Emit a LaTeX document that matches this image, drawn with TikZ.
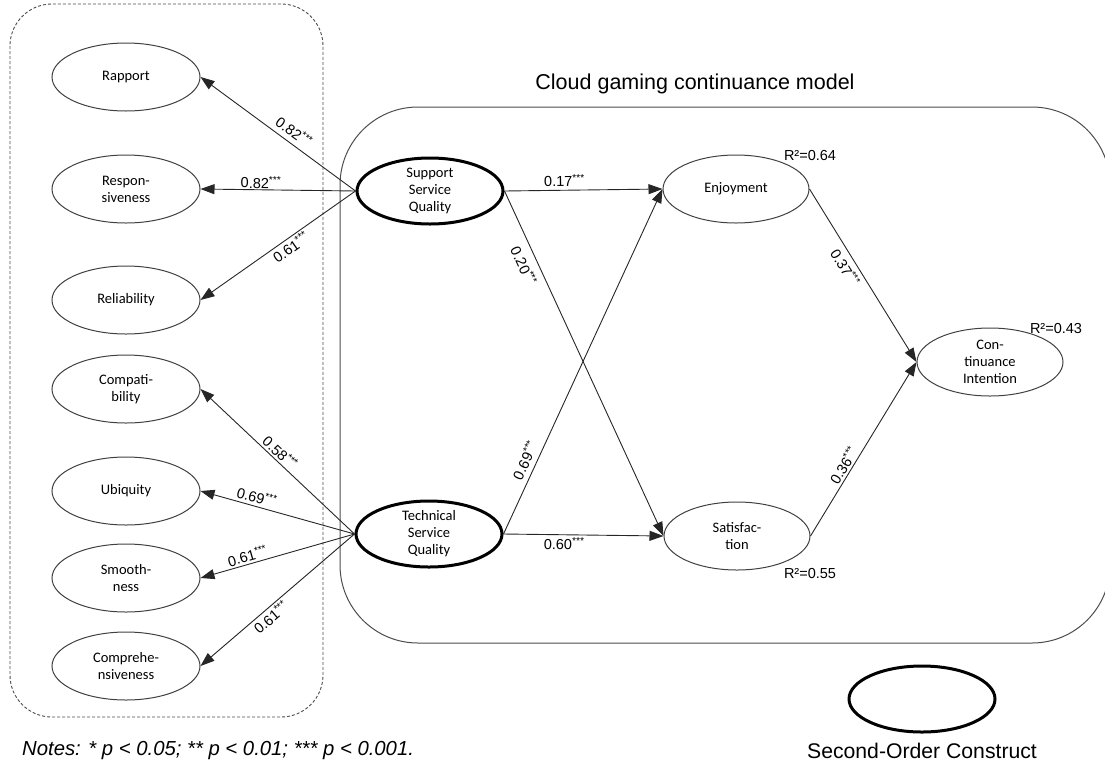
\documentclass[tikz,border=0pt]{standalone}
\usepackage{fontspec}
\setmainfont{Liberation Sans}
\newfontfamily\carl{Carlito}
\usetikzlibrary{shapes.geometric,arrows.meta}
\tikzset{
  lat/.style={ellipse, draw=black!75, line width=1pt, minimum width=148pt, minimum height=68pt,
    inner sep=0pt, align=center, font=\carl\fontsize{14.5}{17}\selectfont},
  sec/.style={lat, draw=black, line width=3pt, minimum width=146pt, minimum height=66pt},
  arr/.style={-{Triangle[length=14pt,width=10pt]}, line width=0.9pt, draw=black!85},
  lbl/.style={font=\fontsize{14.5}{16}\selectfont, sloped, inner sep=2pt},
  rsq/.style={font=\fontsize{14.5}{16}\selectfont, anchor=base, inner sep=0pt},
}
\begin{document}
\begin{tikzpicture}[x=1pt,y=-1pt]
\useasboundingbox (0,0) rectangle (1105,764);
\clip (0,0) rectangle (1105,764);
% frames
\draw[black!70, line width=0.9pt, dash pattern=on 3pt off 2pt, rounded corners=42pt] (10,4) rectangle (323,717);
\draw[black!70, line width=1pt, rounded corners=78pt] (340,107) rectangle (1110,643);
\node[font=\fontsize{21.5}{24}\selectfont, anchor=base] (title) at (695,89) {Cloud gaming continuance model};
% first-order indicators
\node[lat] (rap) at (126,77) {Rapport};
\node[lat] (res) at (126,189) {Respon-\\siveness};
\node[lat] (rel) at (126,300) {Reliability};
\node[lat] (com) at (126,389) {Compati-\\bility};
\node[lat] (ubi) at (126,491) {Ubiquity};
\node[lat] (smo) at (126,578) {Smooth-\\ness};
\node[lat] (cmp) at (126,666) {Comprehe-\\nsiveness};
% second-order constructs
\node[sec] (sup) at (430,191) {Support\\Service\\Quality};
\node[sec] (tec) at (429,534) {Technical\\Service\\Quality};
% model constructs
\node[lat, minimum width=146pt] (enj) at (736,189) {Enjoyment};
\node[lat, minimum width=146pt] (sat) at (737,536) {Satisfac-\\tion};
\node[lat, minimum width=146pt] (ci) at (990,362) {Con-\\tinuance\\Intention};
% loadings
\draw[arr] (sup.west) -- node[lbl,pos=0.44,above=3pt]{0.82\textsuperscript{***}} (rap.east);
\draw[arr] (sup.west) -- node[lbl,pos=0.61,above=-1pt]{0.82\textsuperscript{***}} (res.east);
\draw[arr] (sup.west) -- node[lbl,pos=0.45,below]{0.61\textsuperscript{***}} (rel.east);
\draw[arr] (tec.west) -- node[lbl,pos=0.52,above]{0.58\textsuperscript{***}} (com.east);
\draw[arr] (tec.west) -- node[lbl,pos=0.65,above=1pt]{0.69\textsuperscript{***}} (ubi.east);
\draw[arr] (tec.west) -- node[lbl,pos=0.68,above]{0.61\textsuperscript{***}} (smo.east);
\draw[arr] (tec.west) -- node[lbl,pos=0.58,below]{0.61\textsuperscript{***}} (cmp.east);
% structural paths
\draw[arr] (sup.east) -- node[lbl,pos=0.38,above=1pt]{0.17\textsuperscript{***}} (enj.west);
\draw[arr] (sup.east) -- node[lbl,pos=0.2,below=5pt]{0.20\textsuperscript{***}} (sat.west);
\draw[arr] (tec.east) -- node[lbl,pos=0.2,above=3pt]{0.69\textsuperscript{***}} (enj.west);
\draw[arr] (tec.east) -- node[lbl,pos=0.38,below]{0.60\textsuperscript{***}} (sat.west);
\draw[arr] (enj.east) -- node[lbl,pos=0.42,below=2pt]{0.37\textsuperscript{***}} (ci.west);
\draw[arr] (sat.east) -- node[lbl,pos=0.38,above]{0.36\textsuperscript{***}} (ci.west);
% R squared
\node[rsq] (r1) at (810,160) {R²=0.64};
\node[rsq] (r2) at (1056,333) {R²=0.43};
\node[rsq] (r3) at (810,578) {R²=0.55};
% legend and notes
\node[sec] (leg) at (922,699) {};
\node[font=\fontsize{21.2}{24}\selectfont, anchor=base] (legt) at (922,758) {Second-Order Construct};
\node[font=\itshape\fontsize{20.3}{23}\selectfont, anchor=base west, inner sep=0pt] (notes) at (22,755)
  {Notes: * p < 0.05; ** p < 0.01; *** p < 0.001.};
\end{tikzpicture}
\end{document}
